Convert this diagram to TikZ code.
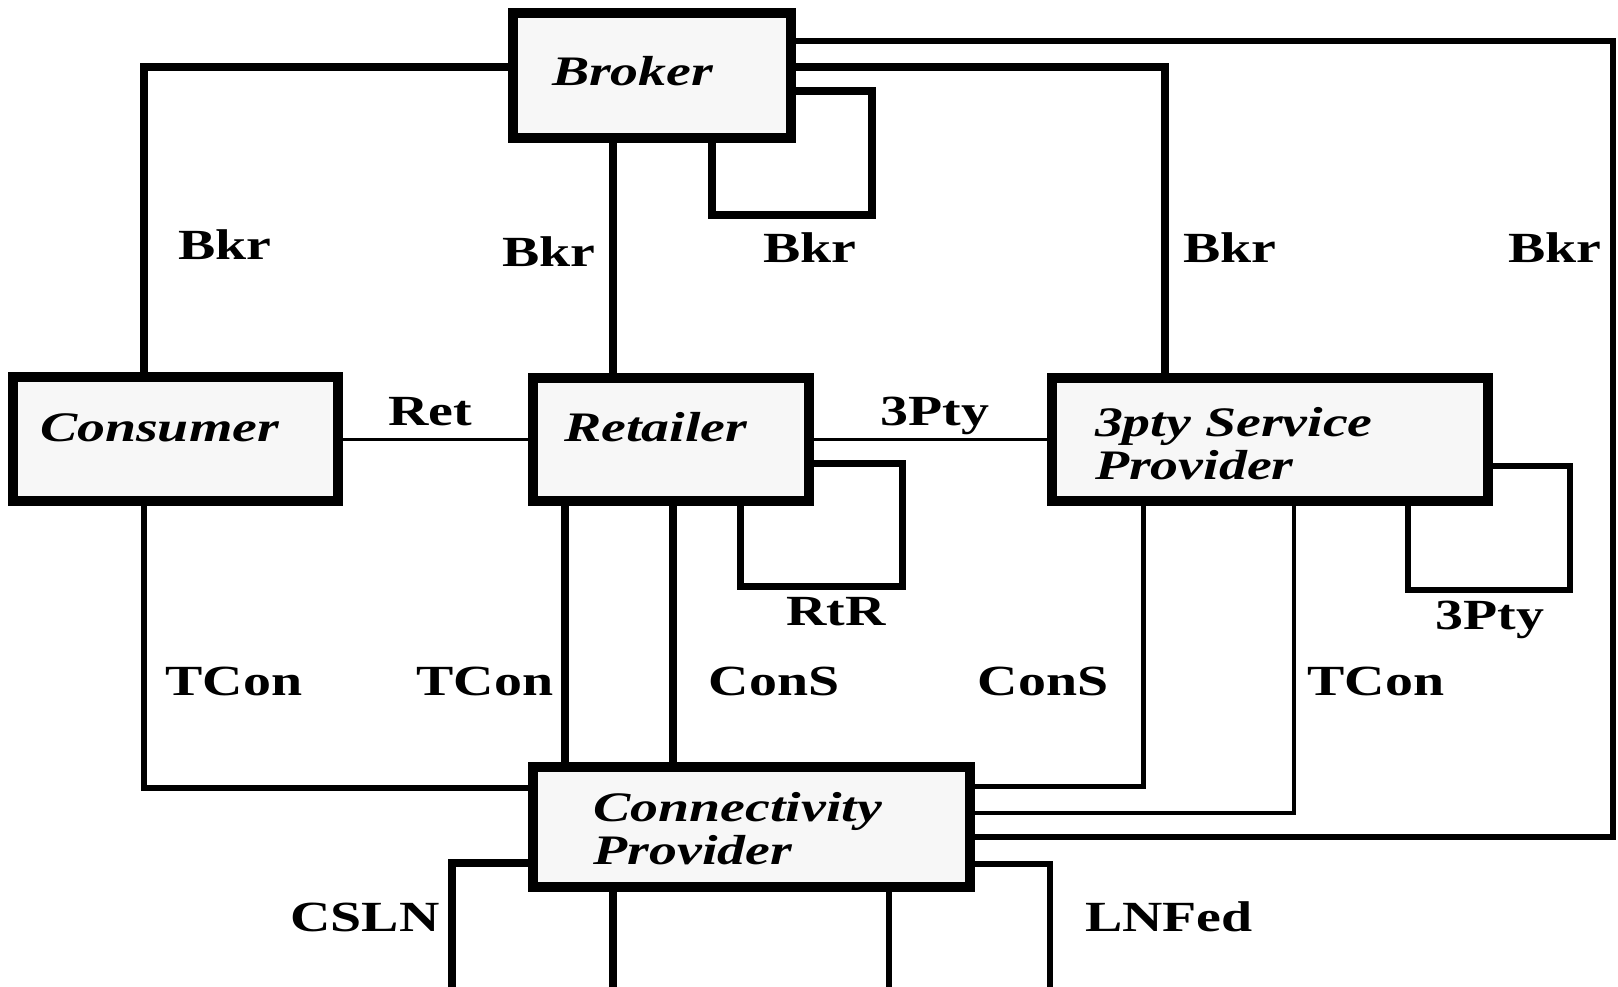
\documentclass[tikz,border=0pt]{standalone}
\usepackage{fontspec}
\newfontfamily\ifcfont[FakeStretch=1.3]{Liberation Serif}
\newfontfamily\rolefont[FakeStretch=1.33]{Liberation Serif}
\tikzset{
role/.style = {draw, line width=10pt, fill=black!3, inner sep=0pt, align=left,
               font=\rolefont\bfseries\itshape\fontsize{42}{43}\selectfont},
ifc/.style = {anchor=base, inner sep=0pt,
              font=\ifcfont\bfseries\fontsize{43}{43}\selectfont},
bus/.style = {line width=#1},
bus/.default = 8pt % thick reference point
}
\newcommand{\ifc}[3]{\node[ifc] (#1) at (#2) {#3};}

\begin{document}
\begin{tikzpicture}[x=1pt, y=-1pt]
        \useasboundingbox (0,0) rectangle (1618,987);
        \node[role, minimum width=278pt, minimum height=125pt, text width=200pt, text depth=9pt] (brk) at (652,75.5) {Broker};
        \node[role, minimum width=325pt, minimum height=124pt, text width=271pt, text depth=22pt] (cons) at (175.5,439) {Consumer};
        \node[role, minimum width=276pt, minimum height=123pt, text width=214pt, text depth=25pt] (ret) at (671,439.5) {Retailer};
        \node[role, minimum width=436pt, minimum height=123pt, text width=350pt] (tpsp) at (1270,439.5) {\rule{0pt}{37pt}3pty Service\\Provider};
        \node[role, minimum width=437pt, minimum height=120pt, text width=315pt] (conn) at (751,827) {\rule{0pt}{33pt}Connectivity\\Provider};
        \coordinate (csla) at (452,1000);
        \coordinate (cslb) at (613,1000);
        \coordinate (lnfa) at (1050,1000);
        \coordinate (lnfb) at (889,1000);
        % Bkr
        \draw[bus] (brk.west |- 0,67) -| (cons.north -| 144,0);
        \draw[bus] (brk.south -| 613,0) -- (ret.north -| 613,0);
        \draw[bus] (brk.east |- 0,91) -| (872,215) -| (brk.south -| 712,0);
        \draw[bus] (brk.east |- 0,67) -| (tpsp.north -| 1165,0);
        \draw[bus=6pt] (brk.east |- 0,41) -| (1613,837) -- (conn.east |- 0,837);
        % Ret, 3Pty, RtR
        \draw[bus=3.5pt] (cons.east |- 0,439.5) -- (ret.west |- 0,439.5);
        \draw[bus=3.5pt] (ret.east |- 0,439.5) -- (tpsp.west |- 0,439.5);
        \draw[bus=7pt] (ret.east |- 0,463.5) -| (902,586) -| (ret.south -| 740,0);
        \draw[bus=6pt] (tpsp.east |- 0,466) -| (1570,590) -| (tpsp.south -| 1408,0);
        % TCon, ConS
        \draw[bus=6pt] (cons.south -| 144,0) |- (conn.west |- 0,788);
        \draw[bus] (ret.south -| 565,0) -- (conn.north -| 565,0);
        \draw[bus] (ret.south -| 673,0) -- (conn.north -| 673,0);
        \draw[bus=5pt] (tpsp.south -| 1143,0) |- (conn.east |- 0,786);
        \draw[bus=4pt] (tpsp.south -| 1294,0) |- (conn.east |- 0,813);
        % CSLN, LNFed
        \draw[bus] (conn.west |- 0,863) -| (csla) -- (cslb) -- (conn.south -| 613,0);
        \draw[bus=6pt] (conn.east |- 0,864) -| (lnfa) -- (lnfb) -- (conn.south -| 889,0);
        \ifc{b1}{225,260}{Bkr}
        \ifc{b2}{549,267}{Bkr}
        \ifc{b3}{810,263}{Bkr}
        \ifc{b4}{1230,263}{Bkr}
        \ifc{b5}{1555,263}{Bkr}
        \ifc{rt}{430,425}{Ret}
        \ifc{p1}{935,425}{3Pty}
        \ifc{rr}{836,625}{RtR}
        \ifc{p2}{1490,629}{3Pty}
        \ifc{t1}{234,695}{TCon}
        \ifc{t2}{485,695}{TCon}
        \ifc{s1}{774,695}{ConS}
        \ifc{s2}{1043,695}{ConS}
        \ifc{t3}{1376,695}{TCon}
        \ifc{cs}{365,931}{CSLN}
        \ifc{lf}{1169,931}{LNFed}
\end{tikzpicture}
\end{document}
